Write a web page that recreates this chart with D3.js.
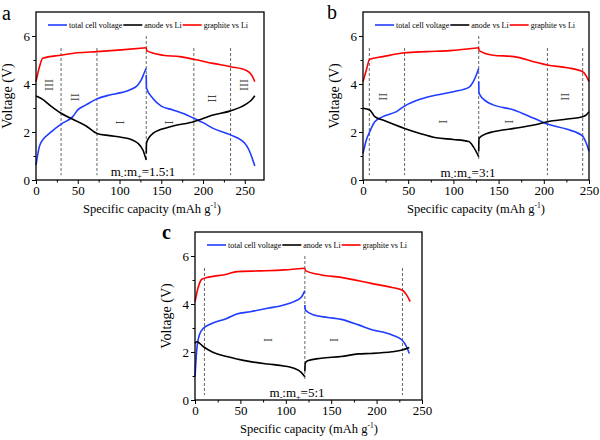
<!DOCTYPE html>
<html><head><meta charset="utf-8">
<script src="https://cdn.jsdelivr.net/npm/d3@7"></script>
<style>body{margin:0;background:#fff}svg{display:block}text{font-family:"Liberation Serif","Times New Roman",serif}</style>
</head><body><svg id="c" width="600" height="440" font-family="Liberation Serif, Times New Roman, serif"></svg>
<script>
// ---------- DATA ----------
const seriesNames = ["total cell voltage", "anode vs Li", "graphite vs Li"];
const seriesColors = ["#1f3cff", "#000000", "#ff0000"];
const yTicks = [0, 2, 4, 6];
const xTicks = [0, 50, 100, 150, 200, 250];

// Panel a (m-:m+ = 1.5:1)
const aTotalCharge = [[0,0.63],[2,1.05],[4,1.39],[8,1.67],[16,1.94],[30,2.33],[44,2.64],[50,2.92],[60,3.13],[73,3.38],[88,3.54],[102,3.64],[114,3.78],[122,3.96],[126,4.17],[130,4.5],[132,4.65]];
const aTotalDischarge = [[132,4.38],[132.3,3.82],[140,3.4],[150,3.08],[164,2.92],[178,2.75],[189,2.57],[200,2.39],[212,2.15],[233,1.88],[250,1.53],[255,1.25],[259,0.9],[262,0.58]];
const aAnodeCharge = [[0,3.5],[8,3.36],[16,3.13],[30,2.78],[44,2.53],[60,2.25],[73,1.94],[88,1.85],[102,1.78],[114,1.69],[122,1.53],[128,1.25],[132,0.83]];
const aAnodeDischarge = [[132,1.1],[132.3,1.53],[136,1.8],[140,1.94],[150,2.11],[164,2.25],[189,2.43],[212,2.71],[233,2.88],[252,3.17],[258,3.33],[262,3.51]];
const aGraphCharge = [[0,4.1],[4,4.7],[8,5.07],[30,5.2],[50,5.3],[73,5.35],[102,5.42],[132,5.51]];
const aGraphDischarge = [[132,5.51],[132.5,5.39],[152,5.2],[172,5.14],[189,5.03],[212,4.86],[233,4.72],[252,4.56],[258,4.38],[262,4.1]];
const aDividers = [30, 73, 189, 233];
const aMid = 132;
const aLabels = [["III",15,3.96],["II",47,3.45],["I",101,2.4],["I",159,2.4],["II",211,3.4],["III",249,3.96]];
const aRatio = "1.5:1";

// Panel b (m-:m+ = 3:1)
const bTotalCharge = [[0,1.11],[3.7,1.67],[7.4,2.01],[13,2.43],[22,2.64],[37,2.85],[46,3.08],[63,3.36],[81,3.54],[100,3.68],[117,3.86],[122,4.1],[126,4.44],[128,4.65]];
const bTotalDischarge = [[128,4.1],[128.3,3.61],[137,3.26],[144,3.13],[167,2.92],[189,2.57],[204,2.33],[226,2.11],[243,1.83],[247,1.53],[250,1.2]];
const bAnodeCharge = [[0,2.99],[7.4,2.92],[13,2.64],[22,2.5],[46,2.15],[63,1.94],[81,1.76],[100,1.69],[117,1.6],[122,1.39],[128,0.97]];
const bAnodeDischarge = [[128,1.2],[128.3,1.74],[137,1.94],[144,2.01],[167,2.15],[189,2.29],[204,2.43],[226,2.54],[243,2.64],[247,2.71],[250,2.85]];
const bGraphCharge = [[0,4.1],[3.7,4.58],[7.4,5.03],[22,5.14],[46,5.3],[70,5.35],[96,5.39],[128,5.51]];
const bGraphDischarge = [[128,5.51],[128.5,5.39],[144,5.2],[167,5.14],[189,4.93],[204,4.79],[226,4.68],[243,4.51],[247,4.33],[250,4.1]];
const bDividers = [7, 46, 204, 243];
const bMid = 128;
const bLabels = [["II",22,3.47],["I",89,2.43],["I",161,2.43],["II",224,3.47]];
const bRatio = "3:1";

// Panel c (m-:m+ = 5:1)
const cTotalCharge = [[0,0.97],[1.9,2.08],[4.8,2.71],[9.3,2.99],[18.5,3.19],[35,3.4],[46,3.58],[61,3.68],[80,3.82],[98,3.96],[109,4.1],[117,4.28],[121,4.56]];
const cTotalDischarge = [[121,3.96],[121.5,3.75],[131,3.54],[146,3.44],[161,3.36],[180,3.13],[194,2.94],[217,2.71],[228,2.5],[233,2.22],[236,1.94]];
const cAnodeCharge = [[0,2.36],[1.9,2.43],[9.3,2.22],[18.5,2.01],[35,1.81],[46,1.71],[61,1.6],[80,1.5],[98,1.42],[109,1.32],[117,1.15],[121,0.97]];
const cAnodeDischarge = [[121,1.2],[121.4,1.53],[124,1.64],[139,1.74],[161,1.81],[180,1.92],[194,1.94],[217,2.01],[228,2.08],[236,2.19]];
const cGraphCharge = [[0,4.1],[3.7,4.72],[7.4,5.03],[13,5.1],[35,5.24],[46,5.35],[72,5.38],[98,5.42],[121,5.49]];
const cGraphDischarge = [[121,5.49],[121.5,5.39],[139,5.21],[161,5.11],[180,4.97],[194,4.86],[217,4.69],[228,4.58],[233,4.38],[237,4.1]];
const cDividers = [10.4, 228.5];
const cMid = 121;
const cLabels = [["I",80,2.5],["I",153,2.5]];
const cRatio = "5:1";

// ---------- DRAW ----------
const FONT = '"Liberation Serif", "Times New Roman", serif';
const svg = d3.select("#c");

function panel(cfg) {
  const x = d3.scaleLinear().domain([0, cfg.xMax]).range([cfg.left, cfg.right]);
  const y = d3.scaleLinear().domain([0, 7]).range([cfg.bottom, cfg.bottom - 7 * 24]);
  const g = svg.append("g").style("font-family", FONT);
  const top = y(7);

  // dividers
  cfg.dividers.forEach(d => {
    g.append("line").attr("x1", x(d)).attr("x2", x(d)).attr("y1", y(5.5)).attr("y2", y(0.2))
      .attr("stroke", "#666").attr("stroke-width", 1).attr("stroke-dasharray", "3,2");
  });
  g.append("line").attr("x1", x(cfg.mid)).attr("x2", x(cfg.mid)).attr("y1", y(6.0)).attr("y2", y(0.8))
    .attr("stroke", "#666").attr("stroke-width", 1).attr("stroke-dasharray", "3,2");

  // roman labels
  cfg.labels.forEach(([t, cx, cy]) => {
    g.append("text").attr("transform", `translate(${x(cx)},${y(cy)}) rotate(90)`)
      .attr("text-anchor", "middle").attr("dominant-baseline", "central")
      .attr("font-size", 12).attr("fill", "#444").text(t);
  });

  // curves
  const line = d3.line().x(d => x(d[0])).y(d => y(d[1])).curve(d3.curveMonotoneX);
  cfg.series.forEach((segs, i) => {
    segs.forEach(s => {
      g.append("path").datum(s).attr("d", line).attr("fill", "none")
        .attr("stroke", seriesColors[i]).attr("stroke-width", 1.6);
    });
  });

  // axes
  const fmt = d3.format("d");
  const xAxis = d3.axisBottom(x).tickValues(xTicks.filter(v => v <= cfg.xMax)).tickSize(4).tickPadding(2).tickFormat(fmt);
  const xMinor = d3.axisBottom(x).tickValues(d3.range(25, cfg.xMax, 50)).tickSize(2.5).tickFormat("");
  const yAxis = d3.axisLeft(y).tickValues(yTicks).tickSize(4).tickPadding(2).tickFormat(fmt);
  const yMinor = d3.axisLeft(y).tickValues([1, 3, 5]).tickSize(2.5).tickFormat("");
  [[xAxis, "x"], [xMinor, "x"], [yAxis, "y"], [yMinor, "y"]].forEach(([ax, k]) => {
    const a = g.append("g").attr("transform", k === "x" ? `translate(0,${cfg.bottom})` : `translate(${cfg.left},0)`).call(ax);
    a.attr("font-family", null).style("font-family", FONT);
    a.select(".domain").remove();
    a.selectAll("line").attr("stroke", "#000").attr("stroke-width", 1);
    a.selectAll("text").attr("font-size", 13).attr("fill", "#000").style("font-family", FONT);
  });

  // frame
  g.append("rect").attr("x", cfg.left).attr("y", top).attr("width", cfg.right - cfg.left)
    .attr("height", cfg.bottom - top).attr("fill", "none").attr("stroke", "#000").attr("stroke-width", 1.3);

  // legend
  let lx = cfg.left + 12;
  const ly = top + 13;
  seriesNames.forEach((n, i) => {
    g.append("line").attr("x1", lx).attr("x2", lx + 19).attr("y1", ly).attr("y2", ly)
      .attr("stroke", seriesColors[i]).attr("stroke-width", 1.6);
    const t = g.append("text").attr("x", lx + 21).attr("y", ly).attr("dominant-baseline", "central")
      .attr("font-size", 8).text(n);
    lx += 21 + t.node().getComputedTextLength() + 1;
  });

  // ratio text
  const rt = g.append("text").attr("x", cfg.ratioX).attr("y", cfg.ratioY).attr("text-anchor", "middle")
    .attr("font-size", 13);
  rt.append("tspan").text("m");
  rt.append("tspan").attr("font-size", 8).attr("dy", 3).text("-");
  rt.append("tspan").attr("dy", -3).text(":m");
  rt.append("tspan").attr("font-size", 8).attr("dy", 3).text("+");
  rt.append("tspan").attr("dy", -3).text("=" + cfg.ratio);

  // axis titles
  const xt = g.append("text").attr("x", cfg.xLabelX).attr("y", cfg.bottom + 33).attr("text-anchor", "middle")
    .attr("font-size", 12.5);
  xt.append("tspan").text("Specific capacity (mAh g");
  xt.append("tspan").attr("font-size", 7.5).attr("dy", -5).text("-1");
  xt.append("tspan").attr("dy", 5).text(")");
  g.append("text").attr("transform", `translate(${cfg.left - 24},${(top + cfg.bottom) / 2}) rotate(-90)`)
    .attr("text-anchor", "middle").attr("font-size", 14).text("Voltage (V)");

  // panel letter
  g.append("text").attr("x", cfg.letterX).attr("y", cfg.letterY).attr("font-size", cfg.letterSize)
    .attr("font-weight", cfg.letterWeight).text(cfg.letter);
}

panel({left: 36, right: 264, bottom: 180, xMax: 273,
  series: [[aTotalCharge, aTotalDischarge], [aAnodeCharge, aAnodeDischarge], [aGraphCharge, aGraphDischarge]],
  dividers: aDividers, mid: aMid, labels: aLabels, ratio: aRatio, ratioX: 143, ratioY: 176,
  xLabelX: 152, letter: "a", letterX: 2, letterY: 20, letterSize: 20, letterWeight: "normal"});
panel({left: 363, right: 589, bottom: 180, xMax: 250,
  series: [[bTotalCharge, bTotalDischarge], [bAnodeCharge, bAnodeDischarge], [bGraphCharge, bGraphDischarge]],
  dividers: bDividers, mid: bMid, labels: bLabels, ratio: bRatio, ratioX: 468, ratioY: 177,
  xLabelX: 476, letter: "b", letterX: 327, letterY: 19, letterSize: 20, letterWeight: "normal"});
panel({left: 195, right: 422, bottom: 400, xMax: 250,
  series: [[cTotalCharge, cTotalDischarge], [cAnodeCharge, cAnodeDischarge], [cGraphCharge, cGraphDischarge]],
  dividers: cDividers, mid: cMid, labels: cLabels, ratio: cRatio, ratioX: 297, ratioY: 397,
  xLabelX: 309, letter: "c", letterX: 162, letterY: 239, letterSize: 20, letterWeight: "bold"});
</script></body></html>
